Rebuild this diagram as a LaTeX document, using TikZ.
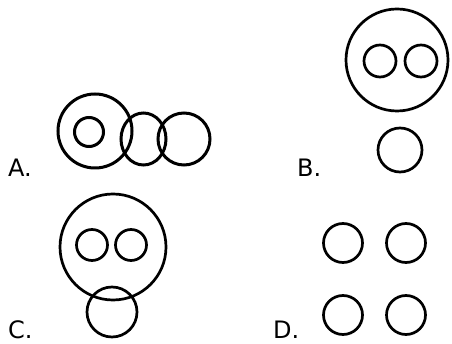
\documentclass[tikz,border=0pt]{standalone}
\usepackage{fontspec}
\setmainfont{DejaVu Sans}
\usetikzlibrary{shapes.geometric}

\begin{document}
\begin{tikzpicture}[x=1pt,y=-1pt,ring/.style={circle,draw,line width=3pt,inner sep=0pt},thin ring/.style={ring,line width=2.7pt},label node/.style={anchor=base west,inner sep=0pt,font=\fontsize{24}{27}\selectfont}]
                \useasboundingbox (0,0) rectangle (452,344);

                % A
                \node[label node] (la) at (8,177) {A.};
                \node[ring,minimum size=74pt] (abig) at (95,131) {};
                \node[ring,minimum size=29pt] (ainner) at (89,132) {};
                \node[ring,ellipse,minimum width=45pt,minimum height=52pt] (amid) at (143.5,139) {};
                \node[ring,minimum size=52pt] (aright) at (184,139) {};

                % B
                \node[label node] (lb) at (297,177) {B.};
                \node[thin ring,minimum size=102pt] (bbig) at (397,60) {};
                \node[thin ring,minimum size=32pt] (beyel) at (380,61) {};
                \node[thin ring,minimum size=32pt] (beyer) at (421,61) {};
                \node[thin ring,minimum size=44pt] (bsmall) at (400,150) {};

                % C
                \node[label node] (lc) at (8,338) {C.};
                \node[thin ring,minimum size=106pt] (cbig) at (113,247) {};
                \node[thin ring,minimum size=31pt] (ceyel) at (92,245) {};
                \node[thin ring,minimum size=31pt] (ceyer) at (131,245) {};
                \node[thin ring,minimum size=50pt] (csmall) at (112,312) {};

                % D
                \node[label node] (ld) at (273,338) {D.};
                \node[thin ring,minimum size=39pt] (d1) at (343,243) {};
                \node[thin ring,minimum size=39pt] (d2) at (406,243) {};
                \node[thin ring,minimum size=39pt] (d3) at (343,315) {};
                \node[thin ring,minimum size=39pt] (d4) at (406,315) {};
            \end{tikzpicture}
\end{document}
